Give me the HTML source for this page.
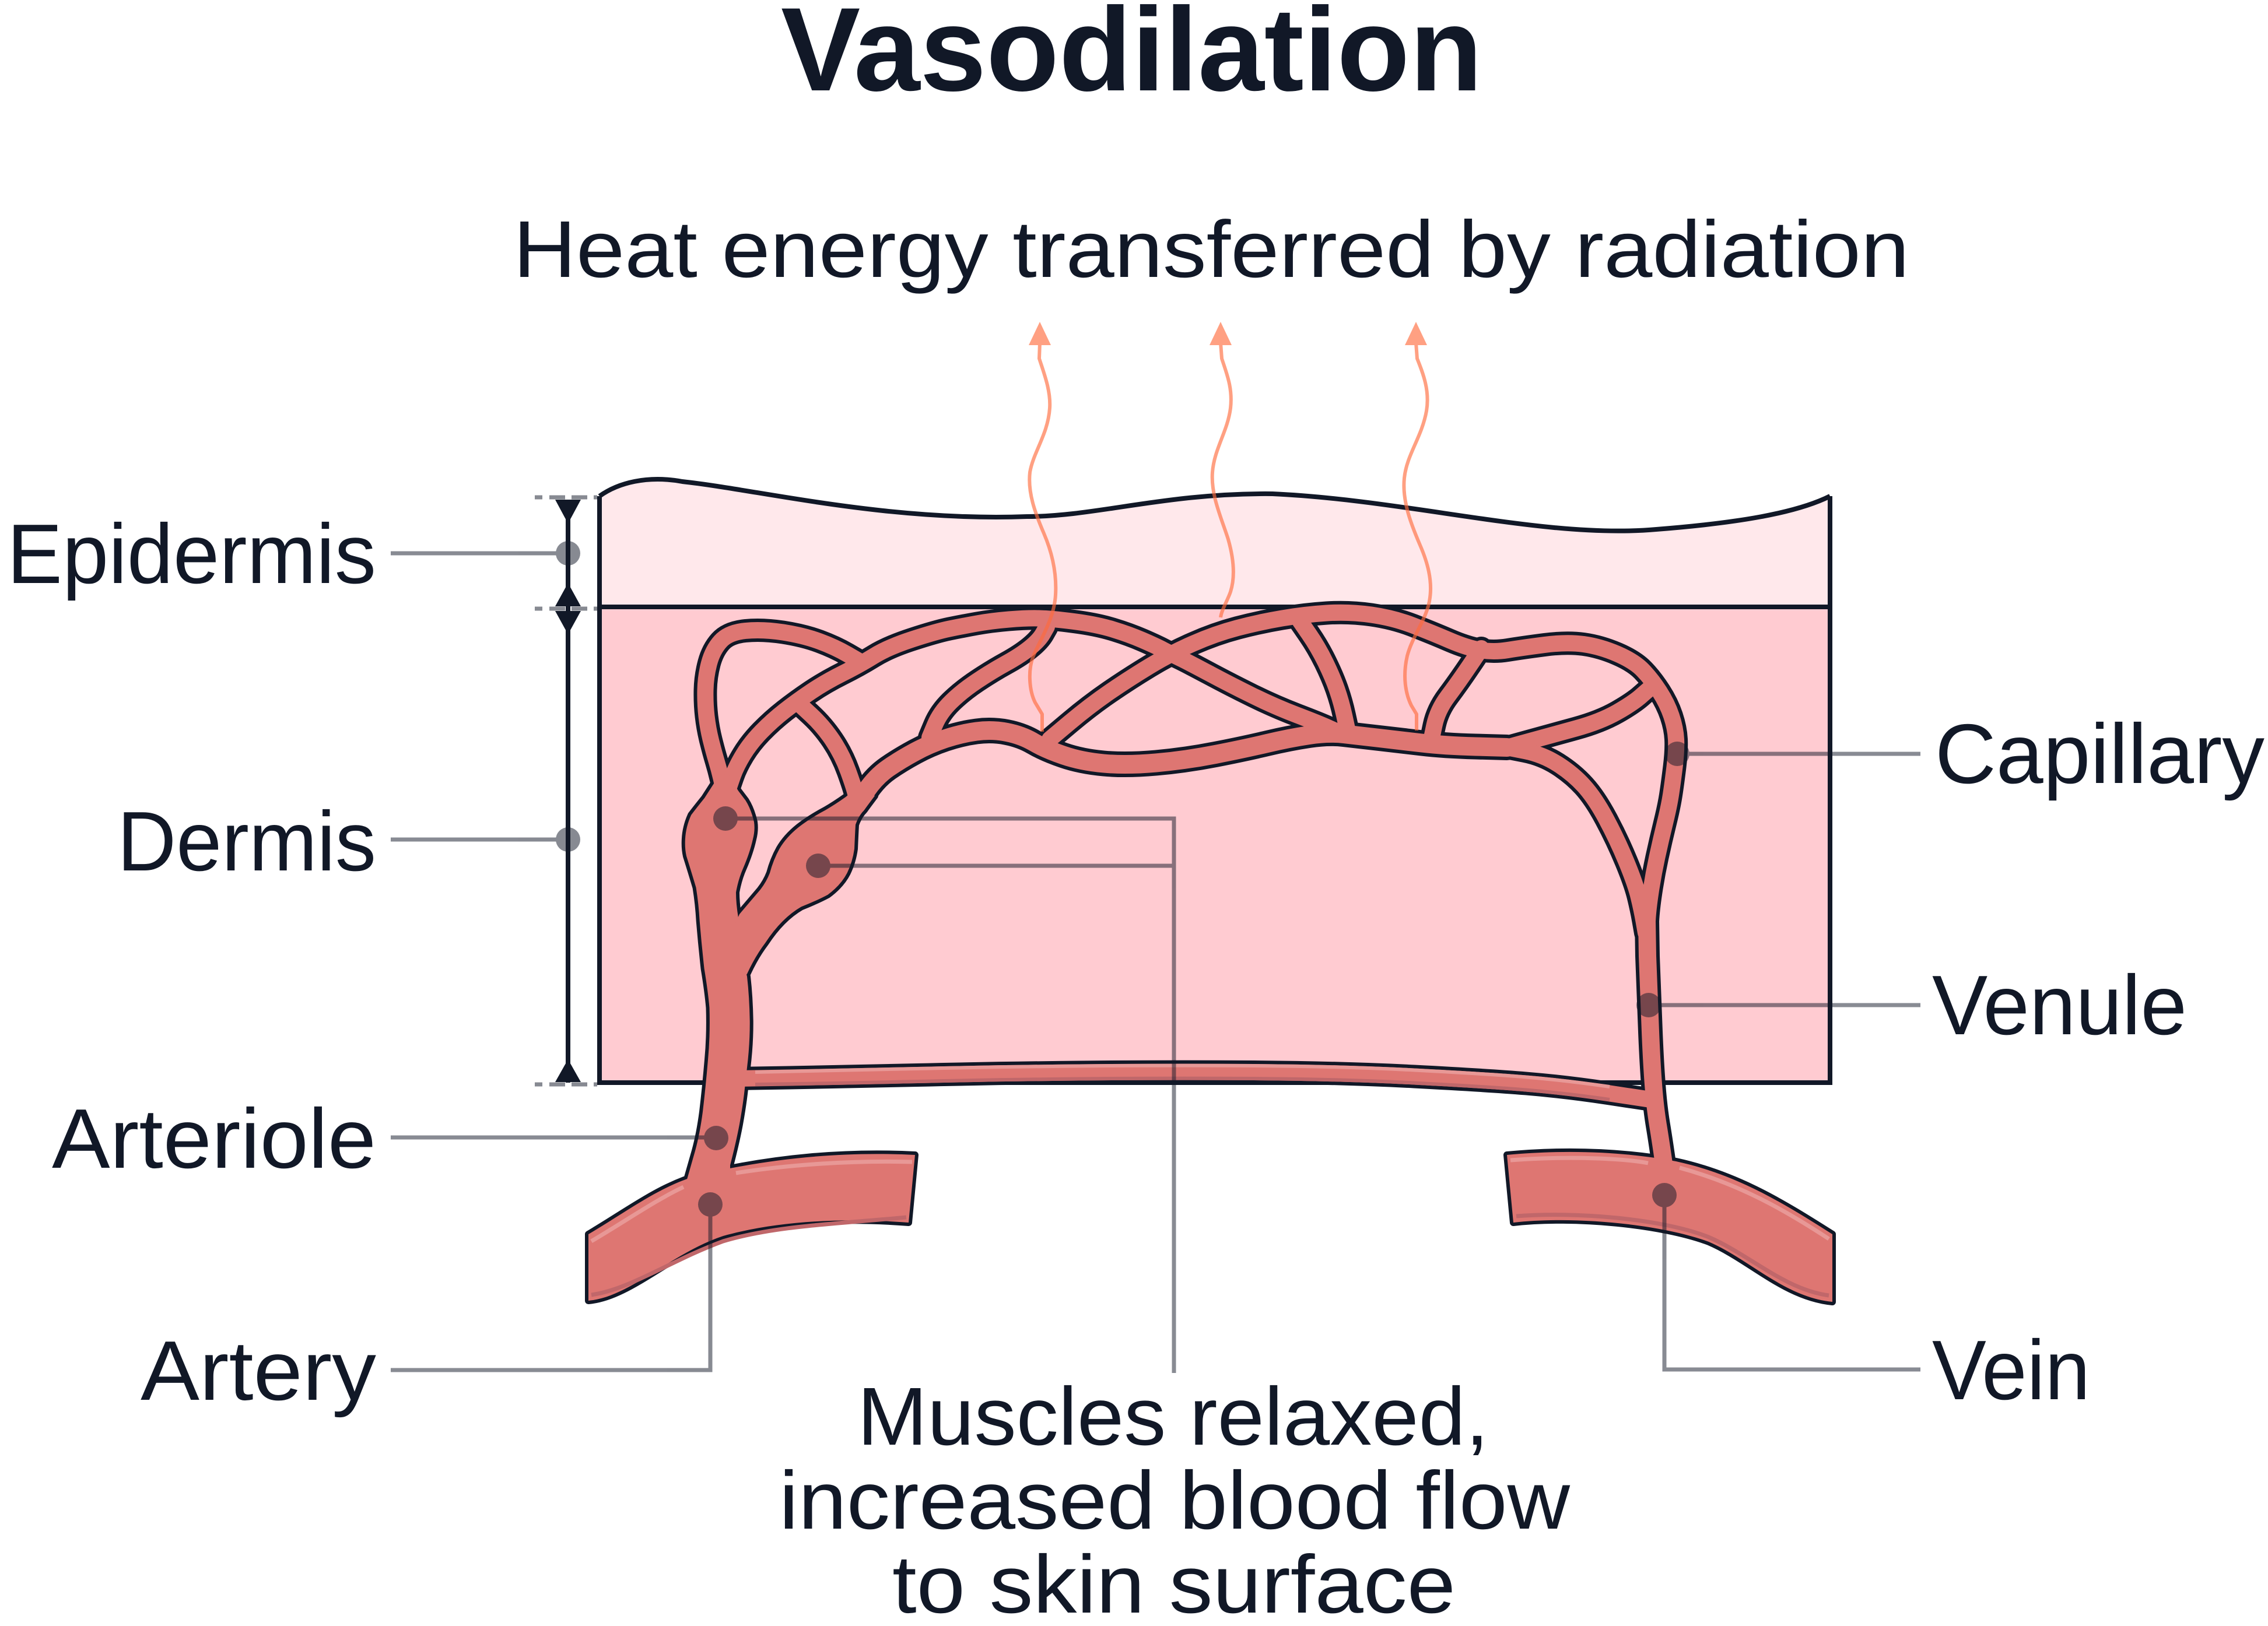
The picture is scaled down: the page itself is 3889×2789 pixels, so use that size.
<!DOCTYPE html>
<html>
<head>
<meta charset="utf-8">
<style>
  html,body{margin:0;padding:0;background:#ffffff;}
  svg{display:block;}
  text{font-family:"Liberation Sans", Arial, sans-serif; fill:#111827;}
</style>
</head>
<body>
<svg xmlns="http://www.w3.org/2000/svg" width="3889" height="2789" viewBox="0 0 3889 2789">
  <defs>
    <path id="e1" d="M1240,1350 L1236.5,1335 Q1233,1320 1228.5,1305 Q1224,1290 1219,1270 Q1214,1250 1211.5,1228.5 Q1209,1207 1209.5,1183.5 Q1210,1160 1216,1137.5 Q1222,1115 1235.5,1100 Q1249,1085 1278,1082 Q1307,1079 1342.5,1084.5 Q1378,1090 1405,1100 Q1432,1110 1453.5,1122.5 L1475,1135"/>
    <path id="e2" d="M1250,1350 L1256,1332.5 Q1262,1315 1274.5,1294.5 Q1287,1274 1305.5,1255 Q1324,1236 1345,1219.5 Q1366,1203 1390.5,1186.5 Q1415,1170 1444,1155.5 Q1473,1141 1498,1125.5 Q1523,1110 1564.5,1096.5 Q1606,1083 1628,1078.5 Q1650,1074 1675,1069.5 Q1700,1065 1730,1062.5 Q1760,1060 1781.5,1060.5 Q1803,1061 1841.5,1066 Q1880,1071 1908,1079.5 Q1936,1088 1959,1098 Q1982,1108 1994.5,1114.5 Q2007,1121 2022.5,1128.5 Q2038,1136 2073.5,1155 Q2109,1174 2147.5,1193 Q2186,1212 2224,1226.5 Q2262,1241 2278.5,1248.5 L2295,1256"/>
    <path id="e3" d="M1370,1207 L1390.5,1226 Q1411,1245 1427.5,1269.5 Q1444,1294 1454.5,1323 Q1465,1352 1467.5,1363.5 L1470,1375"/>
    <path id="e4" d="M1469,1380 L1485.5,1356 Q1502,1332 1523,1317.5 Q1544,1303 1569,1289.5 Q1594,1276 1621,1267 Q1648,1258 1674.5,1254.5 Q1701,1251 1726.5,1256 Q1752,1261 1772.5,1273 Q1793,1285 1823.5,1295.5 Q1854,1306 1892.5,1309.5 Q1931,1313 1982,1308.5 Q2033,1304 2084,1294 Q2135,1284 2173,1275 Q2211,1266 2244.5,1261 Q2278,1256 2304,1259 Q2330,1262 2365,1266 Q2400,1270 2438,1274.5 Q2476,1279 2530,1280.5 L2584,1282"/>
    <path id="e5" d="M1594,1265 L1603,1243.5 Q1612,1222 1631,1203.5 Q1650,1185 1675.5,1168 Q1701,1151 1725.5,1137.5 Q1750,1124 1766,1111 Q1782,1098 1788.5,1086.5 L1795,1075"/>
    <path id="e6" d="M1800,1268 L1834.5,1239 Q1869,1210 1902.5,1187 Q1936,1164 1971.5,1142.5 Q2007,1121 2045.5,1104 Q2084,1087 2122,1077 Q2160,1067 2198.5,1060.5 Q2237,1054 2275,1051.5 Q2313,1049 2351.5,1054.5 Q2390,1060 2423.5,1073 Q2457,1086 2486,1098.5 Q2515,1111 2538,1115 Q2561,1119 2585.5,1115 Q2610,1111 2648.5,1106 Q2687,1101 2715.5,1105 Q2744,1109 2773,1121.5 Q2802,1134 2817,1149.5 Q2832,1165 2845.5,1186 Q2859,1207 2866,1228 Q2873,1249 2874,1268 Q2875,1287 2871.5,1315.5 Q2868,1344 2865,1363.5 Q2862,1383 2855,1411.5 Q2848,1440 2841.5,1470 Q2835,1500 2830.5,1530 Q2826,1560 2825,1580 L2824,1600"/>
    <path id="e7" d="M2229,1065 L2244.5,1087.5 Q2260,1110 2272.5,1135.5 Q2285,1161 2292.5,1182.5 Q2300,1204 2305,1227 L2310,1250"/>
    <path id="e8" d="M2540,1112 L2520.5,1141 Q2501,1170 2483,1194 Q2465,1218 2459.5,1244 L2454,1270"/>
    <path id="e9" d="M2584,1282 L2622,1271.5 Q2660,1261 2702,1249.5 Q2744,1238 2773,1221.5 Q2802,1205 2816,1192 L2832,1178"/>
    <path id="e10" d="M2584,1282 L2614.5,1288 Q2645,1294 2671,1310.5 Q2697,1327 2716,1348 Q2735,1369 2754,1404.5 Q2773,1440 2788.5,1477.5 Q2804,1515 2809.5,1537.5 Q2815,1560 2818.5,1580 L2822,1600"/>
    <path id="e11" d="M2824,1580 L2825,1640 Q2828,1720 2830,1770 Q2832,1820 2835,1860 Q2838,1900 2843,1930 Q2848,1960 2855,2010"/>
    <path id="e12" d="M1260,1850 L1353,1848.5 Q1446,1847 1573,1844 Q1700,1841 1850,1839.5 Q2000,1838 2150,1839 Q2300,1840 2425,1846.5 Q2550,1853 2617,1858.5 Q2684,1864 2757,1875 L2830,1886"/>
    <path id="trunk" d="M1226.7,1339.9 Q1215,1358 1208,1368.9 Q1195,1385 1185.2,1397.9 Q1176,1418 1174.9,1439.4 Q1174,1455 1177,1468.4 Q1186,1497 1193.5,1522.3 Q1198,1550 1199.7,1580 Q1203,1620 1207.6,1661.6 Q1214,1700 1216.5,1728.6 Q1218,1775 1214,1817.8 Q1210,1865 1205,1907 Q1200,1945 1192,1974 L1176,2030 L1252,2030 L1252,1998.6 Q1262,1960 1267.8,1929.4 Q1274,1895 1276.8,1869 Q1279,1850 1281,1831 Q1286,1790 1285.7,1751 Q1285,1710 1281,1675 L1268,1620 L1266,1574 Q1262,1550 1262,1530.6 Q1266,1508 1274.4,1489 Q1286,1462 1291,1439.4 Q1295,1424 1293,1410 Q1288,1388 1278.5,1373 L1266,1356.5 L1250,1330 Z"/>
    <path id="branch" d="M1470,1350 L1450.5,1366.8 Q1432,1380 1415.3,1389.6 Q1390,1403 1369.7,1418.6 Q1348,1436 1336.5,1456 Q1326,1475 1320,1497.4 Q1314,1513 1303.4,1526.4 Q1285,1548 1268,1568 L1245,1620 L1250,1700 L1281,1670.5 Q1295,1640 1312.5,1617 Q1340,1575 1373.8,1555.4 Q1400,1545 1419.4,1534.7 Q1442,1518 1452.6,1497.4 Q1462,1478 1465,1456 Q1466,1432 1467,1414.5 Q1472,1400 1481.6,1389.6 L1500,1365 Z"/>
    <path id="artery" d="M1009,2117 C1080,2075 1130,2035 1200,2015 C1330,1985 1450,1975 1569,1981 L1558,2097 C1440,2088 1330,2095 1240,2120 C1150,2150 1080,2225 1009,2231 Z"/>
    <path id="vein" d="M2584,1981 C2700,1970 2800,1978 2874,1992 C2980,2015 3060,2065 3142,2117 L3142,2233 C3060,2225 3000,2160 2930,2130 C2850,2100 2700,2085 2595,2097 Z"/>
  </defs>

  <!-- skin -->
  <path d="M1028,851 C1060,828 1110,815 1170,826 C1300,840 1520,895 1761,886 C1880,886 2000,845 2182,847 C2420,858 2650,925 2840,908 C2980,897 3080,880 3138,851 L3138,1041 L1028,1041 Z" fill="#ffe8eb"/>
  <rect x="1028" y="1041" width="2110" height="816" fill="#ffcbd1"/>
  <g stroke="#111827" fill="none" stroke-width="8">
    <path d="M1028,851 C1060,828 1110,815 1170,826 C1300,840 1520,895 1761,886 C1880,886 2000,845 2182,847 C2420,858 2650,925 2840,908 C2980,897 3080,880 3138,851"/>
    <line x1="1028" y1="851" x2="1028" y2="1857"/>
    <line x1="3138" y1="851" x2="3138" y2="1857"/>
    <line x1="1024" y1="1041" x2="3142" y2="1041"/>
    <line x1="1024" y1="1857" x2="3142" y2="1857"/>
  </g>

  <!-- vessels: dark outline layer -->
  <g stroke="#111827" fill="none" stroke-linecap="round" stroke-linejoin="round">
    <use href="#e1" stroke-width="40"/>
    <use href="#e2" stroke-width="40"/>
    <use href="#e3" stroke-width="40"/>
    <use href="#e4" stroke-width="44"/>
    <use href="#e5" stroke-width="40"/>
    <use href="#e6" stroke-width="40"/>
    <use href="#e7" stroke-width="40"/>
    <use href="#e8" stroke-width="40"/>
    <use href="#e9" stroke-width="40"/>
    <use href="#e10" stroke-width="40"/>
    <use href="#e11" stroke-width="42"/>
    <use href="#e12" stroke-width="40"/>
    <use href="#trunk" fill="#111827" stroke-width="12"/>
    <use href="#branch" fill="#111827" stroke-width="12"/>
    <use href="#artery" fill="#111827" stroke-width="12"/>
    <use href="#vein" fill="#111827" stroke-width="12"/>
  </g>
  <!-- vessels: red fill layer -->
  <g stroke="#de7672" fill="none" stroke-linecap="round" stroke-linejoin="round">
    <use href="#e1" stroke-width="28"/>
    <use href="#e2" stroke-width="28"/>
    <use href="#e3" stroke-width="28"/>
    <use href="#e4" stroke-width="32"/>
    <use href="#e5" stroke-width="28"/>
    <use href="#e6" stroke-width="28"/>
    <use href="#e7" stroke-width="28"/>
    <use href="#e8" stroke-width="28"/>
    <use href="#e9" stroke-width="28"/>
    <use href="#e10" stroke-width="28"/>
    <use href="#e11" stroke-width="30"/>
    <use href="#e12" stroke-width="28"/>
    <use href="#trunk" fill="#de7672" stroke="none"/>
    <use href="#branch" fill="#de7672" stroke="none"/>
    <use href="#artery" fill="#de7672" stroke="none"/>
    <use href="#vein" fill="#de7672" stroke="none"/>
  </g>
  <!-- stripes -->
  <g fill="none" stroke-width="7" stroke-linecap="butt">
    <path d="M1014,2129 C1075,2093 1125,2058 1172,2036" stroke="#e89896"/>
    <path d="M1262,2012 C1350,1998 1460,1990 1564,1993" stroke="#e89896"/>
    <path d="M1014,2221 C1080,2212 1150,2162 1240,2129 C1330,2102 1440,2099 1554,2088" stroke="#c0676a"/>
    <path d="M2590,1990 C2700,1982 2790,1988 2826,1995" stroke="#e89896"/>
    <path d="M2880,2003 C2980,2030 3060,2075 3136,2125" stroke="#e89896"/>
    <path d="M2600,2086 C2700,2078 2850,2090 2930,2122 C3000,2152 3060,2212 3136,2222" stroke="#c0676a"/>
    <path d="M1295,1839 Q1446,1836 1573,1833 Q1700,1830 1850,1828.5 Q2000,1827 2150,1828 Q2300,1829 2425,1835.5 Q2550,1842 2617,1847.5 Q2684,1853 2760,1864" stroke="#e89896" stroke-width="6"/>
    <path d="M1295,1860 Q1446,1858 1573,1855 Q1700,1852 1850,1850.5 Q2000,1849 2150,1850 Q2300,1851 2425,1857.5 Q2550,1864 2617,1869.5 Q2684,1875 2760,1886" stroke="#c0676a" stroke-width="6"/>
  </g>

  <!-- leader lines and dots (50% dark) -->
  <g opacity="0.5" stroke="#111827" fill="none" stroke-width="7">
    <path d="M670,949 H974"/>
    <path d="M670,1440 H974"/>
    <path d="M670,1951 H1228"/>
    <path d="M670,2350 H1218 V2066"/>
    <path d="M1244,1404 H2013 V2355"/>
    <path d="M1403,1485 H2013"/>
    <path d="M2876,1293 H3293"/>
    <path d="M2827,1724 H3293"/>
    <path d="M2854,2050 V2349 H3293"/>
    <g fill="#111827" stroke="none">
      <circle cx="974" cy="949" r="21"/>
      <circle cx="974" cy="1440" r="21"/>
      <circle cx="1228" cy="1952" r="21"/>
      <circle cx="1218" cy="2066" r="21"/>
      <circle cx="1244" cy="1404" r="21"/>
      <circle cx="1403" cy="1485" r="21"/>
      <circle cx="2876" cy="1293" r="21"/>
      <circle cx="2827" cy="1724" r="21"/>
      <circle cx="2854" cy="2050" r="21"/>
    </g>
  </g>

  <!-- axis -->
  <g fill="#111827">
    <rect x="970" y="857" width="8" height="1000"/>
    <polygon points="952,857 996,857 974,898"/>
    <polygon points="974,1000 996,1040 952,1040"/>
    <polygon points="952,1048 996,1048 974,1088"/>
    <polygon points="974,1817 996,1856 952,1856"/>
  </g>
  <g opacity="0.5" stroke="#111827" stroke-width="7">
    <path d="M917,853 H930 M942,853 H969 M980,853 H1007 M1018,853 H1024"/>
    <path d="M917,1044 H930 M942,1044 H969 M980,1044 H1007 M1018,1044 H1024"/>
    <path d="M917,1860 H930 M942,1860 H969 M980,1860 H1007 M1018,1860 H1024"/>
  </g>

  <!-- heat arrows -->
  <g opacity="0.64">
    <g fill="none" stroke="#ff6b3c" stroke-width="6" stroke-linejoin="round">
      <path d="M1783,588 L1782,615 C1790,640 1802,670 1800,700 C1797,745 1772,775 1766,810 C1762,845 1775,880 1790,915 C1805,950 1812,985 1810,1020 C1808,1060 1785,1095 1772,1125 C1762,1150 1765,1185 1775,1205 L1787,1225 L1787,1255"/>
      <path d="M2093,588 L2095,615 C2103,640 2114,665 2110,700 C2105,740 2082,770 2079,810 C2076,850 2095,890 2106,925 C2116,960 2118,990 2110,1015 C2105,1030 2095,1045 2093,1059"/>
      <path d="M2428,588 L2430,615 C2440,640 2452,670 2446,705 C2438,750 2412,780 2408,820 C2404,860 2420,900 2435,935 C2448,965 2456,995 2452,1025 C2448,1060 2422,1090 2413,1125 C2405,1160 2410,1190 2420,1210 L2429,1225 L2429,1253"/>
    </g>
    <g fill="#ff6b3c">
      <polygon points="1783,552 1802,592 1764,592"/>
      <polygon points="2093,552 2112,592 2074,592"/>
      <polygon points="2428,552 2447,592 2409,592"/>
    </g>
  </g>

  <!-- text -->
  <text x="1339" y="155" font-size="204" font-weight="bold" textLength="1203" lengthAdjust="spacingAndGlyphs">Vasodilation</text>
  <text x="880" y="475" font-size="138" textLength="2394" lengthAdjust="spacingAndGlyphs">Heat energy transferred by radiation</text>
  <text x="12" y="1000" font-size="145" textLength="633" lengthAdjust="spacingAndGlyphs">Epidermis</text>
  <text x="201" y="1493" font-size="145" textLength="444" lengthAdjust="spacingAndGlyphs">Dermis</text>
  <text x="89" y="2003" font-size="145" textLength="556" lengthAdjust="spacingAndGlyphs">Arteriole</text>
  <text x="241" y="2401" font-size="145" textLength="404" lengthAdjust="spacingAndGlyphs">Artery</text>
  <text x="3318" y="1343" font-size="145" textLength="565" lengthAdjust="spacingAndGlyphs">Capillary</text>
  <text x="3313" y="1774" font-size="145" textLength="437" lengthAdjust="spacingAndGlyphs">Venule</text>
  <text x="3313" y="2400" font-size="145" textLength="271" lengthAdjust="spacingAndGlyphs">Vein</text>
  <text x="1470" y="2478" font-size="141" textLength="1083" lengthAdjust="spacingAndGlyphs">Muscles relaxed,</text>
  <text x="1336" y="2622" font-size="141" textLength="1356" lengthAdjust="spacingAndGlyphs">increased blood flow</text>
  <text x="1530" y="2766" font-size="141" textLength="966" lengthAdjust="spacingAndGlyphs">to skin surface</text>
</svg>
</body>
</html>
